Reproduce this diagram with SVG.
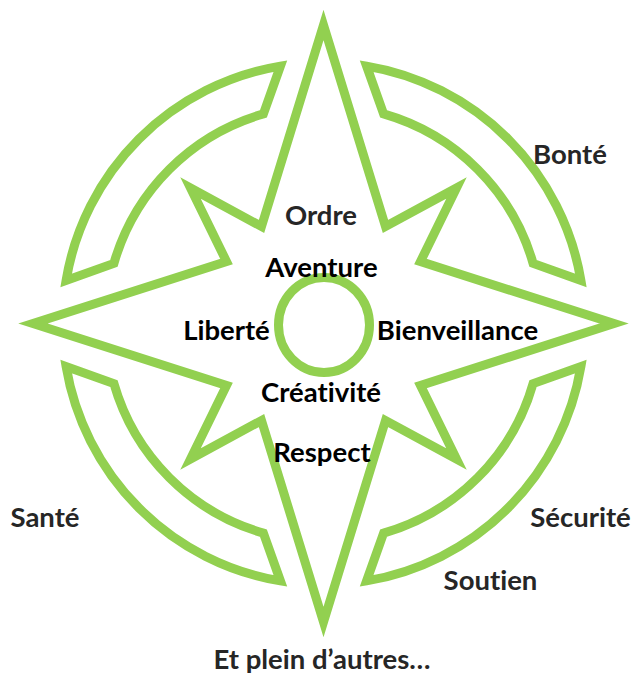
<svg xmlns="http://www.w3.org/2000/svg" width="633" height="677" viewBox="0 0 633 677">
<style>
.shape{fill:none;stroke:#92D050;stroke-width:9;stroke-linejoin:miter;stroke-miterlimit:10}
.t{font-family:"Lato","Liberation Sans",sans-serif;font-weight:700;font-size:27.5px;text-anchor:middle;font-variant-ligatures:none;font-feature-settings:"liga" 0,"dlig" 0}
.outer{fill:#262626}
.inner{fill:#000000}
</style>
<rect width="633" height="677" fill="#ffffff"/>
<g id="ring-nw"><path class="shape" d="M280.4,66.1 A261,261 0 0 0 66.1,280.4 L113.9,263.4 A218,218 0 0 1 263.4,113.9 Z"/></g>
<g id="ring-ne"><path class="shape" d="M366.6,66.1 A261,261 0 0 1 580.9,280.4 L533.1,263.4 A218,218 0 0 0 383.6,113.9 Z"/></g>
<g id="ring-sw"><path class="shape" d="M280.4,580.9 A261,261 0 0 1 66.1,366.6 L113.9,383.6 A218,218 0 0 0 263.4,533.1 Z"/></g>
<g id="ring-se"><path class="shape" d="M366.6,580.9 A261,261 0 0 0 580.9,366.6 L533.1,383.6 A218,218 0 0 1 383.6,533.1 Z"/></g>
<g id="star"><polygon class="shape" points="323.5,25 385.5,226.5 456.5,188 420.5,261.5 614,323.5 420.5,385.5 456.5,459 385.5,420.5 323.5,622 261.5,420.5 190.5,459 226.5,385.5 33,323.5 226.5,261.5 190.5,188 261.5,226.5"/></g>
<g id="hub"><ellipse class="shape" cx="324" cy="325" rx="45.5" ry="47.5"/></g>
<g id="labels">
<text class="t outer" x="570" y="164">Bonté</text>
<text class="t outer" x="321" y="225">Ordre</text>
<text class="t inner" x="321.5" y="277">Aventure</text>
<text class="t inner" x="226.5" y="340">Liberté</text>
<text class="t inner" x="457.5" y="340">Bienveillance</text>
<text class="t inner" x="321" y="402">Créativité</text>
<text class="t inner" x="322" y="462">Respect</text>
<text class="t outer" x="45" y="527">Santé</text>
<text class="t outer" x="580.5" y="527">Sécurité</text>
<text class="t outer" x="490.5" y="590">Soutien</text>
<text class="t outer" x="322" y="669">Et plein d’autres…</text>
</g>
</svg>
